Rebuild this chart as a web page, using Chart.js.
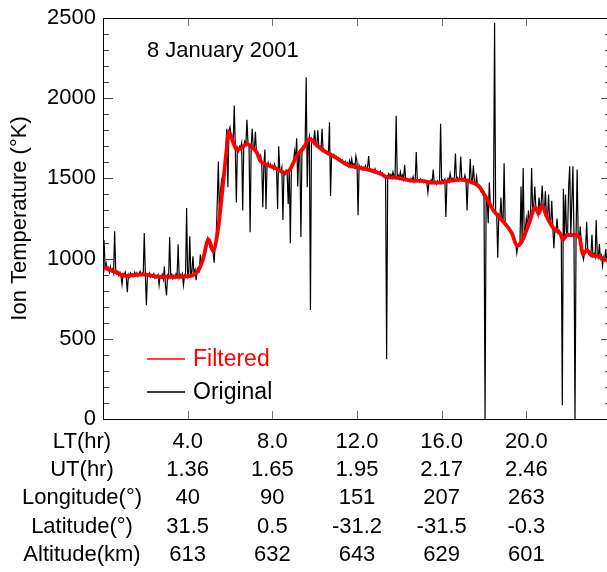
<!DOCTYPE html>
<html>
<head>
<meta charset="utf-8">
<script src="https://cdn.jsdelivr.net/npm/chart.js@4.4.1/dist/chart.umd.min.js"></script>
<style>
  html, body { margin: 0; padding: 0; background: #fff; overflow: hidden; }
  #wrap { width: 612px; height: 572px; }
</style>
</head>
<body>
<div id="wrap"><canvas id="grafico" width="612" height="572"></canvas></div>
<script>
// Ion temperature along the orbit, 8 January 2001

// x axis: local time marks and the extra rows printed under them
const tickLT = [4, 8, 12, 16, 20];
const utLabels = ['1.36', '1.65', '1.95', '2.17', '2.46'];
const lonLabels = ['40', '90', '151', '207', '263'];
const latLabels = ['31.5', '0.5', '-31.2', '-31.5', '-0.3'];
const altLabels = ['613', '632', '643', '629', '601'];
const rowTitles = ['LT(hr)', 'UT(hr)', 'Longitude(\u00b0)', 'Latitude(\u00b0)', 'Altitude(km)'];

// original samples, one every 0.05 hr of LT starting at 0.00 (K), one hour per line
const origStep = 0.05;
const origTemp = [
  960, 1115, 940, 970, 930, 945, 915, 950, 920, 935, 910, 1170, 930, 905, 920, 895, 915, 890, 840, 905,
  895, 915, 880, 790, 900, 885, 910, 895, 905, 890, 915, 895, 910, 890, 905, 920, 895, 910, 900, 1160,
  905, 710, 900, 890, 910, 885, 900, 890, 905, 880, 895, 885, 900, 835, 890, 880, 900, 870, 950, 835,
  770, 895, 880, 1135, 885, 900, 875, 895, 880, 905, 890, 1090, 880, 900, 885, 905, 835, 895, 910, 1315,
  885, 900, 1140, 895, 915, 1015, 905, 930, 865, 935, 945, 925, 1025, 975, 990, 1010, 1050, 1080, 1115, 1130,
  1100, 1075, 1060, 1045, 1040, 975, 1090, 1140, 1360, 1605, 1240, 1420, 1485, 1440, 1520, 1565, 1690, 1810, 1445, 1800,
  1820, 1760, 1740, 1720, 1955, 1700, 1350, 1690, 1670, 1700, 1690, 1720, 1300, 1700, 1730, 1710, 1865, 1720, 1700, 1165,
  1700, 1810, 1690, 1680, 1790, 1660, 1650, 1620, 1610, 1640, 1600, 1320, 1590, 1680, 1310, 1580, 1600, 1575, 1590, 1570,
  1580, 1560, 1590, 1565, 1550, 1310, 1700, 1560, 1545, 1570, 1240, 1540, 1525, 1550, 1530, 1340, 1560, 1095, 1570, 1590,
  1600, 1670, 1620, 1750, 1450, 1650, 1670, 1135, 1680, 1700, 1690, 1720, 2130, 1445, 1730, 1760, 680, 1750, 1740, 1720,
  1800, 1710, 1700, 1800, 1690, 1700, 1680, 1810, 1670, 1680, 1660, 1670, 1650, 1660, 1850, 1390, 1650, 1640, 1650, 1630,
  1640, 1625, 1630, 1610, 1620, 1600, 1615, 1600, 1590, 1605, 1590, 1600, 1575, 1610, 1580, 1620, 1575, 1590, 1570, 1640,
  1605, 1270, 1580, 1560, 1575, 1555, 1570, 1560, 1580, 1555, 1570, 1640, 1550, 1560, 1545, 1555, 1540, 1560, 1535, 1545,
  1540, 1530, 1545, 1525, 1535, 1515, 1520, 1510, 372, 1515, 1530, 1510, 1525, 1505, 1540, 1510, 1520, 1890, 1505, 1520,
  1500, 1540, 1500, 1520, 1495, 1585, 1490, 1500, 1485, 1495, 1480, 1500, 1490, 1510, 1480, 1495, 1665, 1485, 1490, 1480,
  1495, 1480, 1490, 1475, 1485, 1480, 1470, 1413, 1480, 1470, 1490, 1475, 1555, 1470, 1480, 1465, 1485, 1470, 1480, 1840,
  1475, 1490, 1480, 1495, 1260, 1485, 1500, 1480, 1530, 1490, 1500, 1485, 1510, 1655, 1490, 1505, 1485, 1500, 1637, 1495,
  1500, 1490, 1520, 1485, 1300, 1490, 1480, 1620, 1475, 1490, 1580, 1470, 1460, 1510, 1450, 1460, 1440, 1420, 1430, 1400,
  1410, 0, 1380, 1360, 1220, 1475, 1330, 1320, 1300, 1340, 2470, 1290, 1280, 1005, 1270, 1250, 1380, 1240, 1230, 1595,
  1220, 1210, 1200, 1190, 1180, 1170, 1160, 1150, 1130, 1110, 1095, 1035, 1085, 1090, 1100, 1450, 1120, 1565, 1150, 1180,
  1250, 1200, 1300, 1240, 1270, 1565, 1290, 1330, 1450, 1320, 1300, 1270, 1380, 1310, 1340, 1455, 1320, 1290, 1420, 1265,
  1250, 1400, 1240, 1215, 1360, 1200, 1065, 1185, 1170, 1250, 1160, 1175, 1150, 1140, 86, 1435, 1130, 1400, 1150, 1160,
  1450, 1575, 1150, 1350, 1575, 1160, 0, 1150, 1555, 1140, 1130, 1200, 1080, 1030, 995, 1040, 1060, 1230, 1050, 1030,
  1040, 1020, 1150, 1015, 1030, 1010, 1240, 1020, 1005, 1090, 1000, 1020, 955, 1010, 990, 1060, 985, 995, 980, 990
];

// filtered curve (LT in hr, temperature in K)
const filtLT = [0.0, 0.46, 1.10, 1.88, 2.67, 4.01, 4.49, 4.72, 4.99, 5.20, 5.43, 5.67, 5.83, 5.95,
  6.14, 6.33, 6.54, 6.78, 7.01, 7.25, 7.45, 7.72, 8.12, 8.59, 8.83, 9.14, 9.46, 9.77,
  10.09, 10.48, 11.04, 11.51, 12.11, 12.53, 13.17, 13.40, 13.80, 14.27, 14.66, 15.06,
  15.53, 15.93, 16.40, 16.87, 17.34, 17.74, 18.05, 18.45, 18.92, 19.32, 19.56, 19.79,
  19.95, 20.18, 20.42, 20.58, 20.74, 20.97, 21.29, 21.60, 21.73, 21.92, 22.31, 22.52,
  22.68, 22.87, 23.03, 23.34, 23.73, 23.95];
const filtTemp = [949, 923, 892, 902, 886, 890, 923, 994, 1120, 1050, 1178, 1464, 1668, 1790,
  1729, 1678, 1688, 1715, 1698, 1664, 1606, 1586, 1566, 1535, 1555, 1637, 1688, 1745,
  1708, 1668, 1627, 1586, 1566, 1555, 1525, 1508, 1505, 1494, 1484, 1484,
  1474, 1474, 1484, 1492, 1480, 1453, 1392, 1300, 1229, 1157, 1080, 1107,
  1157, 1239, 1321, 1280, 1331, 1260, 1188, 1157, 1117, 1147, 1147, 1127,
  1025, 1055, 1025, 1015, 994, 980];

const FONTE = "'Liberation Sans', Arial, Helvetica, sans-serif";
const LINHA_X = 28.3;   // spacing of the rows under the x axis
const PAD_X = 8.5;

// frame, inward ticks, date, legend and row titles
const moldura = {
  id: 'moldura',
  afterDraw(chart) {
    const { ctx, chartArea: a, scales: { x, y } } = chart;
    ctx.save();
    ctx.lineWidth = 1;

    ctx.strokeStyle = '#444';
    for (let v = 0; v <= 2500; v += 100) {
      const py = Math.round(y.getPixelForValue(v)) + 0.5;
      const len = v % 500 === 0 ? 10 : 6;
      ctx.beginPath();
      ctx.moveTo(a.left, py); ctx.lineTo(a.left + len, py);
      ctx.moveTo(a.right, py); ctx.lineTo(a.right - len, py);
      ctx.stroke();
    }

    ctx.strokeStyle = '#777';
    tickLT.forEach(t => {
      const px = Math.round(x.getPixelForValue(t)) + 0.5;
      ctx.beginPath();
      ctx.moveTo(px, a.bottom); ctx.lineTo(px, a.bottom - 8);
      ctx.moveTo(px, a.top); ctx.lineTo(px, a.top + 8);
      ctx.stroke();
    });

    ctx.strokeStyle = '#000';
    ctx.strokeRect(Math.round(a.left) + 0.5, Math.round(a.top) + 0.5,
      Math.round(a.right - a.left), Math.round(a.bottom - a.top));

    // date
    ctx.font = '22px ' + FONTE;
    ctx.fillStyle = '#000';
    ctx.textBaseline = 'middle';
    ctx.textAlign = 'left';
    ctx.fillText('8 January 2001', a.left + 44, a.top + 33);

    // legend
    const itens = [['Filtered', '#ff0000', 341], ['Original', '#000000', 374]];
    ctx.font = '23px ' + FONTE;
    itens.forEach(([txt, cor, dy]) => {
      ctx.strokeStyle = cor;
      ctx.lineWidth = 1.6;
      ctx.beginPath();
      ctx.moveTo(a.left + 44, a.top + dy);
      ctx.lineTo(a.left + 82, a.top + dy);
      ctx.stroke();
      ctx.fillStyle = cor;
      ctx.fillText(txt, a.left + 90, a.top + dy + 1);
    });

    // row titles under the axis
    ctx.font = '22px ' + FONTE;
    ctx.fillStyle = '#000';
    ctx.textAlign = 'center';
    rowTitles.forEach((txt, i) => {
      ctx.fillText(txt, a.left - 21, a.bottom + PAD_X + LINHA_X / 2 + i * LINHA_X);
    });
    ctx.restore();
  }
};

function criarGrafico() {
  const ctx = document.getElementById('grafico').getContext('2d');
  new Chart(ctx, {
    type: 'line',
    data: {
      datasets: [
        {
          label: 'Filtered',
          data: filtLT.map((t, i) => ({ x: t, y: filtTemp[i] })),
          borderColor: '#ff0000',
          borderWidth: 3.8,
          pointRadius: 0,
          cubicInterpolationMode: 'monotone'
        },
        {
          label: 'Original',
          data: origTemp.map((v, i) => ({ x: i * origStep, y: v })),
          borderColor: '#000000',
          borderWidth: 1.2,
          pointRadius: 0,
          tension: 0
        }
      ]
    },
    options: {
      responsive: false,
      animation: false,
      layout: { padding: { top: 12, right: 1, left: 0, bottom: 0 } },
      plugins: { legend: { display: false }, tooltip: { enabled: false } },
      scales: {
        x: {
          type: 'linear',
          min: 0,
          max: 24,
          grid: { display: false, drawTicks: false },
          border: { display: false },
          afterBuildTicks: s => { s.ticks = tickLT.map(v => ({ value: v })); },
          afterFit: s => { s.height = 153; },
          ticks: {
            autoSkip: false,
            maxRotation: 0,
            padding: PAD_X,
            color: '#000',
            font: { family: FONTE, size: 22, lineHeight: LINHA_X / 22 },
            callback: (v, i) => [Number(v).toFixed(1), utLabels[i], lonLabels[i], latLabels[i], altLabels[i]]
          }
        },
        y: {
          min: 0,
          max: 2500,
          grid: { display: false, drawTicks: false },
          border: { display: false },
          afterFit: s => { s.width = 103; },
          ticks: {
            stepSize: 500,
            padding: 7,
            color: '#000',
            font: { family: FONTE, size: 22, lineHeight: 1 },
            callback: v => String(v)
          },
          title: {
            display: true,
            text: 'Ion Temperature (\u00b0K)',
            color: '#000',
            font: { family: FONTE, size: 22 },
            padding: { top: 7, bottom: 0 }
          }
        }
      }
    },
    plugins: [moldura]
  });
}

window.addEventListener('DOMContentLoaded', criarGrafico);
</script>
</body>
</html>
